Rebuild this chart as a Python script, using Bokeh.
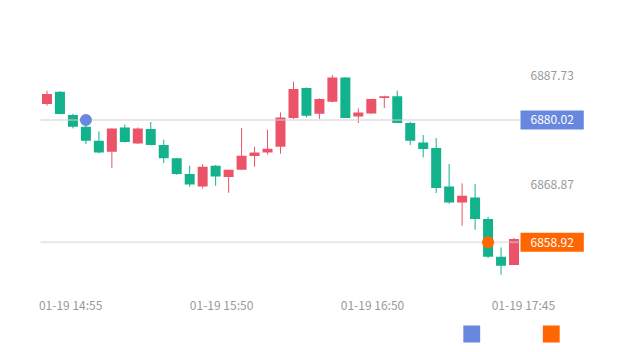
from bokeh.plotting import figure
from bokeh.layouts import column
from bokeh.models import Range1d, FixedTicker, Label, ColumnDataSource
from bokeh.embed import file_html
from bokeh.resources import INLINE

# ---------------- data ----------------
times = ["01-19 14:45", "01-19 14:50", "01-19 14:55", "01-19 15:00", "01-19 15:05",
         "01-19 15:10", "01-19 15:15", "01-19 15:20", "01-19 15:25", "01-19 15:30",
         "01-19 15:35", "01-19 15:40", "01-19 15:45", "01-19 15:50", "01-19 15:55",
         "01-19 16:00", "01-19 16:05", "01-19 16:10", "01-19 16:15", "01-19 16:20",
         "01-19 16:25", "01-19 16:30", "01-19 16:35", "01-19 16:40", "01-19 16:45",
         "01-19 16:50", "01-19 16:55", "01-19 17:00", "01-19 17:05", "01-19 17:10",
         "01-19 17:15", "01-19 17:20", "01-19 17:25", "01-19 17:30", "01-19 17:35",
         "01-19 17:40", "01-19 17:45"]
opens = [6882.76, 6884.89, 6880.87, 6878.85, 6876.44, 6874.54, 6878.73, 6875.97, 6878.45,
         6875.70, 6873.39, 6870.70, 6868.56, 6872.13, 6870.18, 6871.44, 6873.80, 6874.42,
         6875.40, 6880.35, 6885.52, 6881.09, 6883.16, 6887.35, 6880.63, 6881.14, 6883.80,
         6884.08, 6879.49, 6876.14, 6875.18, 6868.56, 6865.80, 6866.66, 6862.94, 6856.44,
         6855.01]
closes = [6884.49, 6881.04, 6878.85, 6876.44, 6874.42, 6878.56, 6876.21, 6878.56, 6875.70,
          6873.39, 6870.70, 6868.90, 6871.95, 6870.28, 6871.44, 6873.85, 6874.42, 6875.06,
          6880.45, 6885.35, 6880.75, 6883.63, 6887.35, 6880.35, 6881.32, 6883.63, 6884.08,
          6879.49, 6876.44, 6875.01, 6868.28, 6865.80, 6866.95, 6862.94, 6856.44, 6854.89,
          6859.49]
highs = [6885.06, 6884.97, 6881.09, 6879.54, 6878.04, 6878.56, 6879.20, 6878.73, 6879.66,
         6876.61, 6873.39, 6872.13, 6872.42, 6872.25, 6871.44, 6878.63, 6875.40, 6878.33,
         6881.32, 6886.61, 6885.63, 6883.73, 6887.73, 6887.39, 6882.01, 6883.68, 6884.20,
         6885.06, 6879.71, 6877.42, 6876.90, 6872.42, 6869.07, 6868.97, 6863.33, 6858.04,
         6859.66]
lows = [6882.47, 6881.01, 6878.56, 6875.87, 6874.25, 6871.73, 6876.09, 6875.87, 6875.63,
        6872.59, 6870.57, 6868.51, 6868.21, 6868.68, 6867.47, 6871.44, 6871.95, 6874.02,
        6874.20, 6880.18, 6880.45, 6880.18, 6883.04, 6880.32, 6879.49, 6881.04, 6882.07,
        6879.49, 6875.70, 6873.56, 6867.42, 6865.57, 6861.78, 6861.09, 6856.21, 6853.33,
        6855.01]

blue_time = "01-19 15:00"
blue_value = 6880.02
orange_time = "01-19 17:35"
orange_value = 6858.92

y_tick_values = [6887.73, 6868.87]
x_tick_labels = ["01-19 14:55", "01-19 15:50", "01-19 16:50", "01-19 17:45"]

# ---------------- styles / layout ----------------
RED = "#eb5468"
GREEN = "#12b28d"
BLUE = "#6888e0"
ORANGE = "#ff6600"
AXIS_TXT = "#999999"
FONT = "Noto Sans CJK SC"

W = 620
H_MAIN, H_LEG = 322, 30
FL, FT, FB = 40, 30, 290        # frame edges of the main chart
GRID_R = 520                    # right edge of the candle grid
n = len(times)
band = (GRID_R - FL) / n
x_end = -0.5 + (W - FL) / band  # frame extends past the candle grid for the value tags

px_per_unit = 5.8               # vertical scale, max high at y=74.7
y_top = y_tick_values[0] + (74.7 - FT) / px_per_unit
y_bot = y_tick_values[0] - (FB - 74.7) / px_per_unit

p = figure(width=W, height=H_MAIN, output_backend="svg", toolbar_location=None,
           x_range=Range1d(-0.5, x_end), y_range=Range1d(y_bot, y_top),
           y_axis_location=None, min_border_left=FL, min_border_right=0,
           min_border_top=FT, min_border_bottom=H_MAIN - FB)
p.outline_line_color = None
p.xgrid.visible = False
p.ygrid.visible = False
p.background_fill_color = "white"
p.border_fill_color = "white"

grid_right = n - 0.5

# candles
idx = list(range(n))
up = [c >= o for o, c in zip(opens, closes)]
for flag, col in ((True, RED), (False, GREEN)):
    sel = [i for i in idx if up[i] == flag]
    src = ColumnDataSource(dict(
        x=sel,
        top=[max(opens[i], closes[i]) for i in sel],
        bottom=[min(opens[i], closes[i]) for i in sel],
        high=[highs[i] for i in sel],
        low=[lows[i] for i in sel]))
    p.segment(x0="x", y0="low", x1="x", y1="high", source=src, line_color=col, line_width=1)
    p.vbar(x="x", width=0.77, top="top", bottom="bottom", source=src,
           fill_color=col, line_color=None)

# mark lines across the candle grid
marks = [blue_value, orange_value]
p.segment(x0=[-0.5] * len(marks), x1=[grid_right] * len(marks), y0=marks, y1=marks,
          line_color="#d0d0d0", line_alpha=0.5, line_width=2)

# points
bx = times.index(blue_time)
ox = times.index(orange_time)
p.scatter(x=[bx], y=[blue_value], size=12, fill_color=BLUE, line_color=None)
p.scatter(x=[ox], y=[orange_value], size=12, fill_color=ORANGE, line_color=None)

# value scale labels on the right of the grid
for v in y_tick_values:
    p.add_layout(Label(x=grid_right, y=v, x_offset=10, text=f"{v:.2f}",
                       text_align="left", text_baseline="middle",
                       text_color=AXIS_TXT, text_font=FONT, text_font_size="12px"))

# value tags
for val, col in ((blue_value, BLUE), (orange_value, ORANGE)):
    p.add_layout(Label(x=grid_right, y=val, text=f"{val:.2f}", text_align="left",
                       text_baseline="middle", text_color="white",
                       text_font=FONT, text_font_size="12px",
                       background_fill_color=col,
                       padding=dict(left=10, right=10, top=5, bottom=5)))

# x axis (labels evenly spaced ~151 px apart)
x_tick_px = [70.2 + 150.9 * k for k in range(len(x_tick_labels))]
x_tick_pos = [round((px - FL) / band - 0.5, 3) for px in x_tick_px]
xa = p.xaxis[0]
xa.ticker = FixedTicker(ticks=x_tick_pos)
xa.major_label_overrides = {pos: lab for pos, lab in zip(x_tick_pos, x_tick_labels)}
xa.axis_line_color = None
xa.major_tick_line_color = None
xa.minor_tick_line_color = None
xa.major_tick_out = 0
xa.major_label_text_color = AXIS_TXT
xa.major_label_text_font = FONT
xa.major_label_text_font_size = "12px"
xa.major_label_standoff = 5

# ---- legend strip (series icons) ----
q = figure(width=W, height=H_LEG, output_backend="svg", toolbar_location=None,
           x_range=Range1d(0, W), y_range=Range1d(H_LEG, 0),
           x_axis_location=None, y_axis_location=None,
           min_border_left=0, min_border_right=0, min_border_top=0, min_border_bottom=0)
q.outline_line_color = None
q.xgrid.visible = False
q.ygrid.visible = False
q.background_fill_color = "white"
q.border_fill_color = "white"
icon_left = [452, 537]
icon_size = 18
icon_top = 3
q.quad(left=icon_left, right=[v + icon_size for v in icon_left],
       top=[icon_top] * 2, bottom=[icon_top + icon_size - 1] * 2,
       fill_color=[BLUE, ORANGE], line_color=None)

open("out.html", "w").write(file_html(column(p, q, spacing=0), INLINE))
